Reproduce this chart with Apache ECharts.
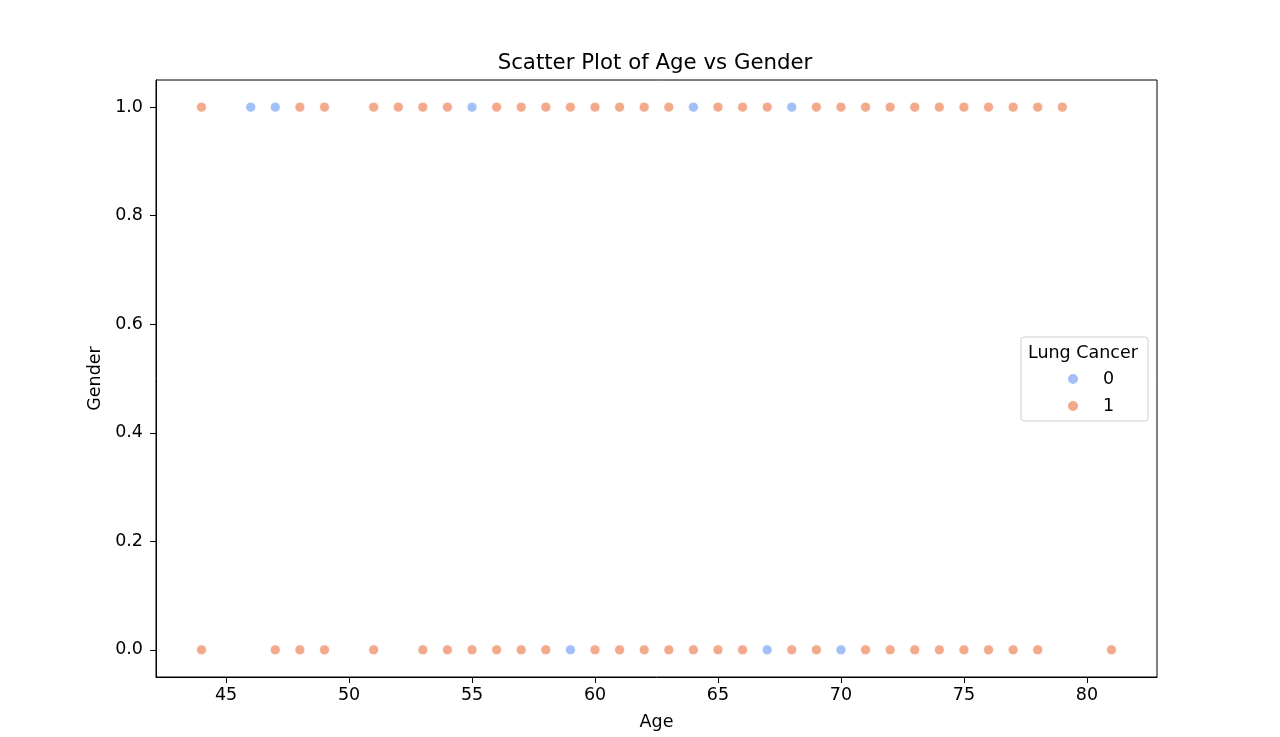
<!DOCTYPE html>
<html>
<head>
<meta charset="utf-8">
<script src="https://cdn.jsdelivr.net/npm/echarts@6/dist/echarts.min.js"></script>
<style>html,body{margin:0;padding:0;background:#fff}#c{width:1280px;height:737px}</style>
</head>
<body>
<div id="c"></div>
<script>
// Lung Cancer = 0 (blue)
const ages0Gender1 = [46, 47, 55, 64, 68];
const ages0Gender0 = [59, 67, 70];
// Lung Cancer = 1 (orange)
const ages1Gender1 = [44, 48, 49, 51, 52, 53, 54, 56, 57, 58, 59, 60, 61, 62, 63, 65, 66, 67, 69, 70, 71, 72, 73, 74, 75, 76, 77, 78, 79];
const ages1Gender0 = [44, 47, 48, 49, 51, 53, 54, 55, 56, 57, 58, 60, 61, 62, 63, 64, 65, 66, 68, 69, 71, 72, 73, 74, 75, 76, 77, 78, 81];
const xTicks = [45, 50, 55, 60, 65, 70, 75, 80];
const yTicks = [0, 0.2, 0.4, 0.6, 0.8, 1.0];
const seriesNames = ['0', '1'];

const FONT = 'DejaVu Sans';
const pts = (ages, g) => ages.map(a => [a, g]);
const data0 = pts(ages0Gender1, 1).concat(pts(ages0Gender0, 0));
const data1 = pts(ages1Gender1, 1).concat(pts(ages1Gender0, 0));

const chart = echarts.init(document.getElementById('c'));
const axisCommon = {
  axisLine: { show: true, onZero: false, lineStyle: { color: '#000', width: 1 } },
  axisTick: { show: true, inside: false, length: 6, lineStyle: { color: '#000', width: 1 } },
  splitLine: { show: false },
  nameTextStyle: { color: '#000', fontSize: 17.5, fontFamily: FONT }
};
chart.setOption({
  animation: false,
  backgroundColor: '#fff',
  title: {
    text: 'Scatter Plot of Age vs Gender',
    left: 650, top: 48, textAlign: 'center',
    textStyle: { color: '#000', fontSize: 21.3, fontWeight: 'normal', fontFamily: FONT }
  },
  grid: { left: 156, top: 80, width: 1001, height: 597, show: true, borderColor: '#000', borderWidth: 1, backgroundColor: 'transparent' },
  xAxis: Object.assign({}, axisCommon, {
    type: 'value', min: 42.15, max: 82.85,
    name: 'Age', nameLocation: 'middle', nameGap: 36,
    axisTick: Object.assign({}, axisCommon.axisTick, { customValues: xTicks }),
    axisLabel: { customValues: xTicks, color: '#000', fontSize: 17.5, fontFamily: FONT, margin: 9 }
  }),
  yAxis: Object.assign({}, axisCommon, {
    type: 'value', min: -0.05, max: 1.05,
    name: 'Gender', nameLocation: 'middle', nameGap: 52,
    axisTick: Object.assign({}, axisCommon.axisTick, { customValues: yTicks }),
    axisLabel: { customValues: yTicks, color: '#000', fontSize: 17.5, fontFamily: FONT, margin: 13,
      formatter: v => Number(v).toFixed(1) }
  }),
  legend: {
    orient: 'vertical', left: 1061, top: 365,
    itemWidth: 12, itemHeight: 12, itemGap: 9, icon: 'circle',
    data: seriesNames,
    textStyle: { color: '#000', fontSize: 17.5, fontFamily: FONT, lineHeight: 18, padding: [0, 0, 0, 19] }
  },
  graphic: [
    { type: 'rect', shape: { x: 1021, y: 337, width: 127, height: 84, r: 3 },
      style: { fill: 'rgba(255,255,255,0.8)', stroke: '#d0d0d0', lineWidth: 1 }, z: 0 },
    { type: 'text', left: 1028, top: 344, z: 10,
      style: { text: 'Lung Cancer', fontSize: 17.5, fontFamily: FONT, fill: '#000' } }
  ],
  series: [
    { name: seriesNames[0], type: 'scatter', data: data0, symbolSize: 10,
      itemStyle: { color: '#a2bff8', borderColor: '#fff', borderWidth: 0.75, opacity: 1 } },
    { name: seriesNames[1], type: 'scatter', data: data1, symbolSize: 10,
      itemStyle: { color: '#f3a98b', borderColor: '#fff', borderWidth: 0.75, opacity: 1 } }
  ]
});
</script>
</body>
</html>
